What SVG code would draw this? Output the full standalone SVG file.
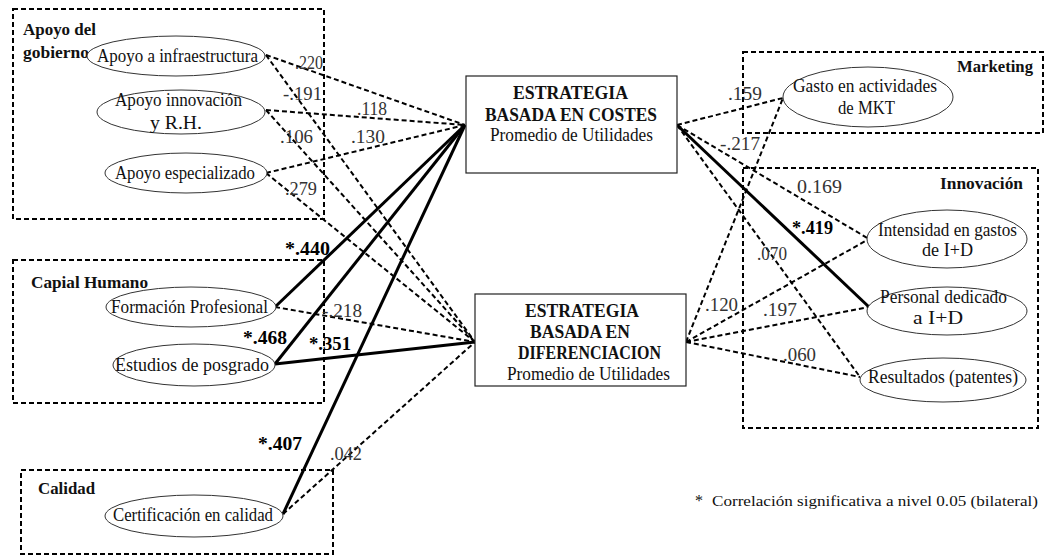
<svg xmlns="http://www.w3.org/2000/svg" width="1045" height="556" viewBox="0 0 1045 556">
<style>
.grp{fill:none;stroke:#000;stroke-width:2;stroke-dasharray:5,3}
.ell{fill:#fff;stroke:#333;stroke-width:1}
.box{fill:#fff;stroke:#222;stroke-width:1.2}
text{font-family:"Liberation Serif","Times New Roman",serif}
.t{font-size:18px;fill:#111}
.tb{font-size:17px;font-weight:bold;fill:#111}
.ct{font-size:18px;font-weight:bold;fill:#111}
.n{font-size:19px;fill:#333}
.nb{font-size:19px;font-weight:bold;fill:#000}
.d{fill:none;stroke:#000;stroke-width:2;stroke-dasharray:5,3}
.s{fill:none;stroke:#000;stroke-width:3}
</style>
<rect width="1045" height="556" fill="#fff"/>

<!-- group boxes -->
<g id="g-gobierno">
<rect class="grp" x="13" y="9" width="311" height="210"/>
<text class="tb" x="23" y="35" textLength="73" lengthAdjust="spacingAndGlyphs">Apoyo del</text>
<text class="tb" x="23" y="58" textLength="66" lengthAdjust="spacingAndGlyphs">gobierno</text>
</g>
<g id="g-capital">
<rect class="grp" x="13" y="260" width="311" height="143"/>
<text class="tb" x="31" y="288" textLength="117" lengthAdjust="spacingAndGlyphs" style="font-weight:600">Capial Humano</text>
</g>
<g id="g-calidad">
<rect class="grp" x="21" y="470" width="312" height="84"/>
<text class="tb" x="38" y="494" textLength="57" lengthAdjust="spacingAndGlyphs">Calidad</text>
</g>
<g id="g-marketing">
<rect class="grp" x="743" y="52" width="300" height="81"/>
<text class="tb" x="957" y="72" textLength="76" lengthAdjust="spacingAndGlyphs">Marketing</text>
</g>
<g id="g-innovacion">
<rect class="grp" x="743" y="168" width="295" height="260"/>
<text class="tb" x="940" y="189" textLength="83" lengthAdjust="spacingAndGlyphs">Innovación</text>
</g>

<!-- connectors -->
<g id="connectors">
<line class="d" x1="266" y1="55" x2="465" y2="125"/>
<line class="d" x1="266" y1="110" x2="465" y2="125"/>
<line class="d" x1="266" y1="173" x2="465" y2="125"/>
<line class="s" x1="275" y1="307" x2="465" y2="125"/>
<line class="s" x1="275" y1="364" x2="465" y2="125"/>
<line class="s" x1="283" y1="514" x2="465" y2="125"/>
<line class="d" x1="266" y1="55" x2="475" y2="342"/>
<line class="d" x1="266" y1="110" x2="475" y2="342"/>
<line class="d" x1="266" y1="173" x2="475" y2="342"/>
<line class="d" x1="275" y1="307" x2="475" y2="342"/>
<line class="s" x1="275" y1="364" x2="475" y2="342"/>
<line class="d" x1="283" y1="514" x2="475" y2="342"/>
<line class="d" x1="677" y1="125" x2="783" y2="98"/>
<line class="d" x1="677" y1="125" x2="869" y2="239"/>
<line class="s" x1="677" y1="125" x2="869" y2="307"/>
<line class="d" x1="677" y1="125" x2="860" y2="377"/>
<line class="d" x1="686" y1="342" x2="783" y2="98"/>
<line class="d" x1="686" y1="342" x2="869" y2="239"/>
<line class="d" x1="686" y1="342" x2="869" y2="307"/>
<line class="d" x1="686" y1="342" x2="860" y2="377"/>
<!-- labels -->
<text class="n" x="295" y="69" textLength="28" lengthAdjust="spacingAndGlyphs">.220</text>
<text class="n" x="283" y="100" textLength="39" lengthAdjust="spacingAndGlyphs">-.191</text>
<text class="n" x="357" y="115" textLength="30" lengthAdjust="spacingAndGlyphs">.118</text>
<text class="n" x="280" y="143" textLength="33" lengthAdjust="spacingAndGlyphs">.106</text>
<text class="n" x="351" y="143" textLength="34" lengthAdjust="spacingAndGlyphs">.130</text>
<text class="n" x="285" y="195" textLength="32" lengthAdjust="spacingAndGlyphs">.279</text>
<text class="nb" x="285" y="255" textLength="45" lengthAdjust="spacingAndGlyphs">*.440</text>
<text class="n" x="322" y="317" textLength="40" lengthAdjust="spacingAndGlyphs">-.218</text>
<text class="nb" x="243" y="344" textLength="44" lengthAdjust="spacingAndGlyphs">*.468</text>
<text class="nb" x="309" y="350" textLength="42" lengthAdjust="spacingAndGlyphs">*.351</text>
<text class="nb" x="258" y="450" textLength="44" lengthAdjust="spacingAndGlyphs">*.407</text>
<text class="n" x="330" y="460" textLength="32" lengthAdjust="spacingAndGlyphs">.042</text>
<text class="n" x="728" y="100" textLength="34" lengthAdjust="spacingAndGlyphs">.159</text>
<text class="n" x="720" y="150" textLength="40" lengthAdjust="spacingAndGlyphs">-.217</text>
<text class="n" x="797" y="193" textLength="45" lengthAdjust="spacingAndGlyphs">0.169</text>
<text class="nb" x="792" y="234" textLength="41" lengthAdjust="spacingAndGlyphs">*.419</text>
<text class="n" x="757" y="260" textLength="30" lengthAdjust="spacingAndGlyphs">.070</text>
<text class="n" x="705" y="311" textLength="33" lengthAdjust="spacingAndGlyphs">.120</text>
<text class="n" x="763" y="316" textLength="34" lengthAdjust="spacingAndGlyphs">.197</text>
<text class="n" x="783" y="361" textLength="33" lengthAdjust="spacingAndGlyphs">.060</text>
</g>

<!-- nodes -->
<g id="n-infra">
<ellipse class="ell" cx="176" cy="56" rx="89" ry="20"/>
<text class="t" x="97" y="62" textLength="161" lengthAdjust="spacingAndGlyphs">Apoyo a infraestructura</text>
</g>
<g id="n-innov">
<ellipse class="ell" cx="181" cy="112" rx="84" ry="22"/>
<text class="t" x="115" y="106" textLength="127" lengthAdjust="spacingAndGlyphs">Apoyo innovación</text>
<text class="t" x="150" y="129" textLength="52" lengthAdjust="spacingAndGlyphs">y R.H.</text>
</g>
<g id="n-espec">
<ellipse class="ell" cx="186" cy="173" rx="81" ry="20"/>
<text class="t" x="115" y="179" textLength="140" lengthAdjust="spacingAndGlyphs">Apoyo especializado</text>
</g>
<g id="n-formacion">
<ellipse class="ell" cx="191" cy="307" rx="85" ry="20"/>
<text class="t" x="111" y="313" textLength="157" lengthAdjust="spacingAndGlyphs">Formación Profesional</text>
</g>
<g id="n-posgrado">
<ellipse class="ell" cx="194" cy="365" rx="81" ry="21"/>
<text class="t" x="115" y="371" textLength="154" lengthAdjust="spacingAndGlyphs">Estudios de posgrado</text>
</g>
<g id="n-certificacion">
<ellipse class="ell" cx="194" cy="516" rx="89" ry="21"/>
<text class="t" x="113" y="521" textLength="160" lengthAdjust="spacingAndGlyphs">Certificación en calidad</text>
</g>
<g id="n-costes">
<rect class="box" x="466" y="76" width="211" height="97"/>
<text class="ct" x="513" y="99" textLength="115" lengthAdjust="spacingAndGlyphs">ESTRATEGIA</text>
<text class="ct" x="485" y="121" textLength="172" lengthAdjust="spacingAndGlyphs">BASADA EN COSTES</text>
<text class="t" x="490" y="141" textLength="163" lengthAdjust="spacingAndGlyphs">Promedio de Utilidades</text>
</g>
<g id="n-diferenciacion">
<rect class="box" x="475" y="294" width="211" height="92"/>
<text class="ct" x="525" y="317" textLength="114" lengthAdjust="spacingAndGlyphs">ESTRATEGIA</text>
<text class="ct" x="530" y="338" textLength="100" lengthAdjust="spacingAndGlyphs">BASADA EN</text>
<text class="ct" x="518" y="359" textLength="143" lengthAdjust="spacingAndGlyphs">DIFERENCIACION</text>
<text class="t" x="507" y="380" textLength="163" lengthAdjust="spacingAndGlyphs">Promedio de Utilidades</text>
</g>
<g id="n-gasto">
<ellipse class="ell" cx="868" cy="97" rx="85" ry="30"/>
<text class="t" x="793" y="92" textLength="144" lengthAdjust="spacingAndGlyphs">Gasto en actividades</text>
<text class="t" x="838" y="114" textLength="57" lengthAdjust="spacingAndGlyphs">de MKT</text>
</g>
<g id="n-intensidad">
<ellipse class="ell" cx="947" cy="239" rx="80" ry="29"/>
<text class="t" x="878" y="236" textLength="139" lengthAdjust="spacingAndGlyphs">Intensidad en gastos</text>
<text class="t" x="922" y="256" textLength="51" lengthAdjust="spacingAndGlyphs">de I+D</text>
</g>
<g id="n-personal">
<ellipse class="ell" cx="947" cy="311" rx="80" ry="24"/>
<text class="t" x="880" y="303" textLength="127" lengthAdjust="spacingAndGlyphs">Personal dedicado</text>
<text class="t" x="913" y="324" textLength="50" lengthAdjust="spacingAndGlyphs">a I+D</text>
</g>
<g id="n-resultados">
<ellipse class="ell" cx="943" cy="380" rx="83" ry="22"/>
<text class="t" x="868" y="383" textLength="150" lengthAdjust="spacingAndGlyphs">Resultados (patentes)</text>
</g>

<g id="legend">
<text class="t" x="695" y="506" style="font-size:16px">*</text>
<text class="t" x="712" y="506" style="font-size:15px" textLength="326" lengthAdjust="spacingAndGlyphs">Correlación  significativa a nivel 0.05 (bilateral)</text>
</g>
</svg>
